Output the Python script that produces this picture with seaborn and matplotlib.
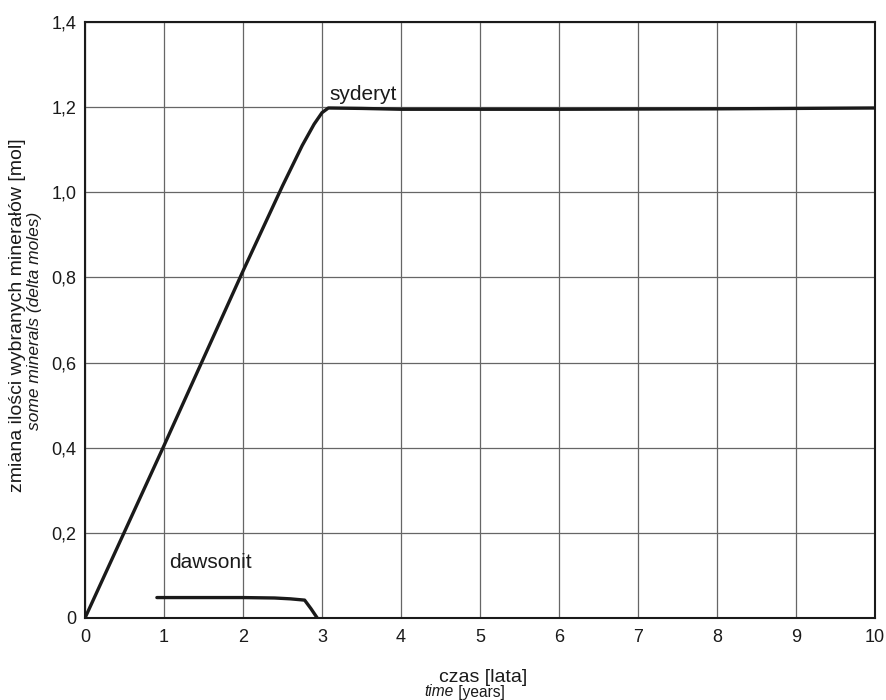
import matplotlib
matplotlib.use("Agg")
import matplotlib.pyplot as plt
import seaborn as sns
import pandas as pd
from matplotlib.ticker import FuncFormatter

sns.set_theme(style="white")
plt.rcParams['font.family'] = ['Liberation Sans', 'DejaVu Sans']

# Data
syd_x = [0.0, 1.0, 2.0, 2.5, 2.75, 2.9, 3.0, 3.08, 3.5, 4.0, 6.0, 8.0, 10.0]
syd_y = [0.0, 0.405, 0.815, 1.015, 1.11, 1.16, 1.187, 1.198, 1.197, 1.195, 1.195, 1.196, 1.198]
daw_x = [0.91, 1.5, 2.0, 2.4, 2.6, 2.78, 2.86, 2.94]
daw_y = [0.048, 0.048, 0.048, 0.047, 0.045, 0.042, 0.022, 0.0]

x_ticks = list(range(0, 11))
y_ticks = [0, 0.2, 0.4, 0.6, 0.8, 1.0, 1.2, 1.4]

df_s = pd.DataFrame({"x": syd_x, "y": syd_y})
df_d = pd.DataFrame({"x": daw_x, "y": daw_y})

fig = plt.figure(figsize=(8.87, 7.0), dpi=100)
ax = fig.add_axes([85/887, 1-618/700, (875-85)/887, (618-22)/700])

sns.lineplot(data=df_s, x="x", y="y", ax=ax, color="#1a1a1a", linewidth=2.4, sort=False)
sns.lineplot(data=df_d, x="x", y="y", ax=ax, color="#1a1a1a", linewidth=2.4, sort=False)

ax.set_xlim(0, 10)
ax.set_ylim(0, 1.4)
ax.set_xticks(x_ticks)
ax.set_yticks(y_ticks)
ax.yaxis.set_major_formatter(FuncFormatter(lambda v, p: "0" if abs(v) < 1e-9 else f"{v:.1f}".replace(".", ",")))
ax.xaxis.set_major_formatter(FuncFormatter(lambda v, p: f"{int(round(v))}"))
ax.tick_params(axis='both', length=0, labelsize=13, colors="#1a1a1a")
ax.tick_params(axis='x', pad=8)
ax.tick_params(axis='y', pad=6)
ax.grid(True, color="#666666", linewidth=0.9)
for s in ax.spines.values():
    s.set_color("#1a1a1a")
    s.set_linewidth(1.5)
ax.set_xlabel("")
ax.set_ylabel("")

ax.text(3.09, 1.217, "syderyt", fontsize=15, color="#1a1a1a", ha="left", va="baseline")
ax.text(1.06, 0.117, "dawsonit", fontsize=15, color="#1a1a1a", ha="left", va="baseline")

fig.text(18/887, 1-315/700, "zmiana ilości wybranych minerałów [mol]", rotation=90,
         ha="center", va="center", fontsize=14, color="#1a1a1a")
fig.text(35/887, 1-321/700, "some minerals (delta moles)", rotation=90, style="italic",
         ha="center", va="center", fontsize=12.5, color="#1a1a1a")
fig.text(483/887, 1-677/700, "czas [lata]", ha="center", va="center", fontsize=14, color="#1a1a1a")
fig.text(454/887, 1-692/700, "time", style="italic", ha="right", va="center", fontsize=11.2, color="#1a1a1a")
fig.text(454/887, 1-692/700, " [years]", ha="left", va="center", fontsize=11.2, color="#1a1a1a")

fig.savefig("out.png", dpi=100)
